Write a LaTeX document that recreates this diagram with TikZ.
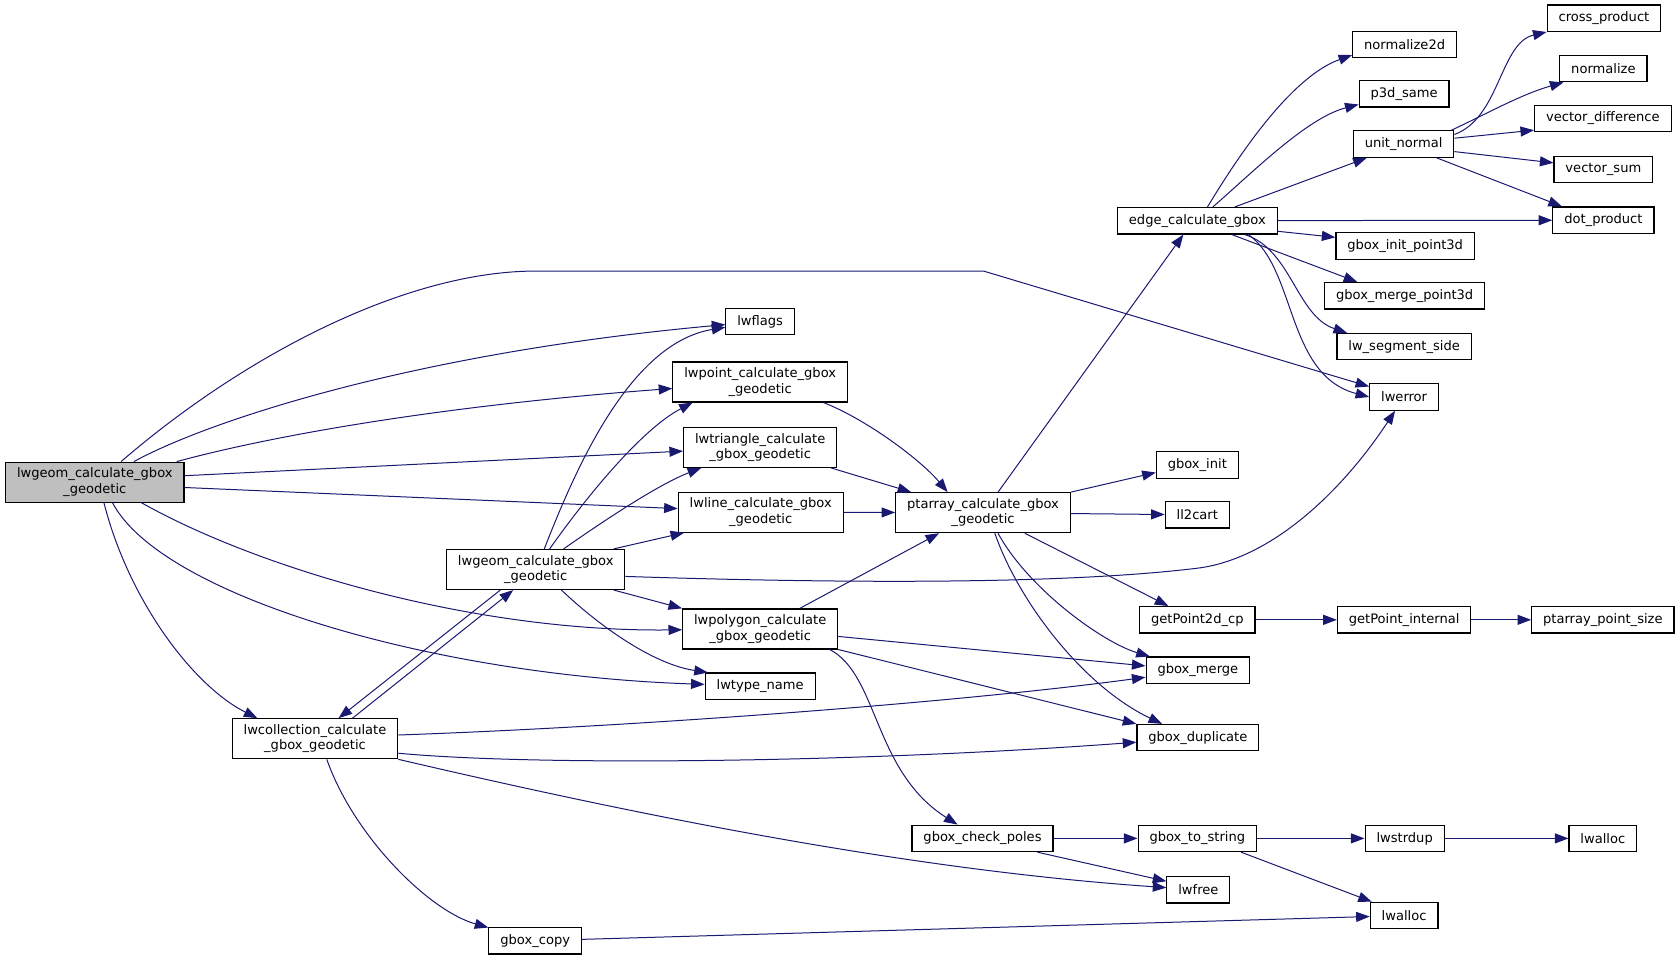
\documentclass[tikz,border=0pt]{standalone}
\usepackage{fontspec}
\setmainfont{DejaVu Sans}
\usetikzlibrary{arrows.meta,calc}
\definecolor{edgeblue}{HTML}{191970}
\definecolor{rootgray}{HTML}{BFBFBF}
\begin{document}
\begin{tikzpicture}[x=0.75pt, y=0.75pt,
        fn/.style={draw, rectangle, line width=0.8pt, inner xsep=8pt, inner ysep=2pt, minimum height=18.5pt, align=center, font=\fontsize{9.15}{10.8}\selectfont},
        fn2/.style={fn, minimum height=28pt},
        dep/.style={-{Triangle[length=9.5pt,width=7pt]}, edgeblue, line width=0.7pt}]
    \useasboundingbox (0,0) rectangle (1568,-896);

    \node[fn2, fill=rootgray] (root) at (88.5,-450) {lwgeom\_calculate\_gbox\\\_geodetic};
    \node[fn] (lwflags) at (709.5,-300) {lwflags};
    \node[fn2] (lwpoint) at (709.5,-356.5) {lwpoint\_calculate\_gbox\\\_geodetic};
    \node[fn2] (lwtri) at (709.5,-417.5) {lwtriangle\_calculate\\\_gbox\_geodetic};
    \node[fn2] (lwline) at (710,-478) {lwline\_calculate\_gbox\\\_geodetic};
    \node[fn2] (geom) at (500,-531.5) {lwgeom\_calculate\_gbox\\\_geodetic};
    \node[fn2] (lwpoly) at (709.5,-587) {lwpolygon\_calculate\\\_gbox\_geodetic};
    \node[fn] (typename) at (709.5,-640.5) {lwtype\_name};
    \node[fn2] (coll) at (294,-689.5) {lwcollection\_calculate\\\_gbox\_geodetic};
    \node[fn] (gcopy) at (499.5,-878) {gbox\_copy};
    \node[fn2] (ptarr) at (917.5,-478.5) {ptarray\_calculate\_gbox\\\_geodetic};
    \node[fn] (edge) at (1117.5,-206) {edge\_calculate\_gbox};
    \node[fn] (norm2d) at (1311,-41.5) {normalize2d};
    \node[fn] (psame) at (1310.5,-87.5) {p3d\_same};
    \node[fn] (unorm) at (1310,-134.5) {unit\_normal};
    \node[fn] (ginitpt) at (1311.5,-229.5) {gbox\_init\_point3d};
    \node[fn] (gmergept) at (1311,-276) {gbox\_merge\_point3d};
    \node[fn] (segside) at (1310.5,-323.5) {lw\_segment\_side};
    \node[fn] (lwerr) at (1310.5,-370.5) {lwerror};
    \node[fn] (cross) at (1497,-17) {cross\_product};
    \node[fn] (normz) at (1496.5,-64) {normalize};
    \node[fn] (vdiff) at (1496,-110.5) {vector\_difference};
    \node[fn] (vsum) at (1496.5,-158) {vector\_sum};
    \node[fn] (dotp) at (1496.5,-205.5) {dot\_product};
    \node[fn] (ginit) at (1117.5,-434) {gbox\_init};
    \node[fn] (llcart) at (1117.5,-480.5) {ll2cart};
    \node[fn] (gp2d) at (1117.5,-578.5) {getPoint2d\_cp};
    \node[fn] (gpint) at (1310.5,-578.5) {getPoint\_internal};
    \node[fn] (ppsize) at (1496,-578.5) {ptarray\_point\_size};
    \node[fn] (gmerge) at (1118,-625.5) {gbox\_merge};
    \node[fn] (gdup) at (1118,-688.5) {gbox\_duplicate};
    \node[fn] (gpoles) at (917,-782.5) {gbox\_check\_poles};
    \node[fn] (gstr) at (1117.5,-782.5) {gbox\_to\_string};
    \node[fn] (strdup) at (1311,-782.5) {lwstrdup};
    \node[fn] (alloca) at (1496,-782.5) {lwalloc};
    \node[fn] (lwfree) at (1118.5,-830.5) {lwfree};
    \node[fn] (allocb) at (1310.5,-854.5) {lwalloc};

    \draw[dep] ($(root.north)+(24.5,0)$) .. controls (230,-330) and (380,-253) .. (500,-253) -- (918,-253) -- (lwerr);
    \draw[dep] ($(root.north)+(36.5,0)$) .. controls (190,-395) and (380,-330) .. (lwflags);
    \draw[dep] ($(root.north)+(76.5,0)$) .. controls (260,-405) and (420,-378) .. (lwpoint);
    \draw[dep] ($(root.east)+(0,6)$) -- (lwtri);
    \draw[dep] ($(root.east)+(0,-5)$) -- (lwline);
    \draw[dep] ($(root.south)+(43.5,0)$) .. controls (240,-530) and (440,-590) .. (lwpoly);
    \draw[dep] ($(root.south)+(16.5,0)$) .. controls (150,-555) and (400,-630) .. (typename);
    \draw[dep] ($(root.south)+(8.5,0)$) .. controls (120,-560) and (180,-640) .. ($(coll.north west)+(24,0)$);

    \draw[dep] ($(geom.north)+(8,0)$) .. controls (540,-430) and (590,-320) .. (lwflags);
    \draw[dep] ($(geom.north)+(13,0)$) .. controls (550,-460) and (600,-400) .. ($(lwpoint.south west)+(19,0)$);
    \draw[dep] ($(geom.north)+(26,0)$) .. controls (565,-485) and (615,-452) .. ($(lwtri.south west)+(17,0)$);
    \draw[dep] ($(geom.north east)+(-11,0)$) -- ($(lwline.south west)+(6,0)$);
    \draw[dep] ($(geom.east)+(0,-6.5)$) .. controls (800,-545) and (1000,-545) .. (1120,-530) .. controls (1190,-520) and (1255,-455) .. (lwerr);
    \draw[dep] ($(geom.south east)+(-11,0)$) -- (lwpoly.north west);
    \draw[dep] ($(geom.south)+(24,0)$) .. controls (560,-585) and (610,-620) .. ($(typename.north west)+(3,0)$);
    \draw[dep] ($(geom.south)+(-33,0)$) -- ($(coll.north)+(22,0)$);

    \draw[dep] ($(coll.north)+(35,0)$) -- ($(geom.south)+(-21,0)$);
    \draw[dep] ($(coll.east)+(0,3.5)$) .. controls (600,-678) and (900,-655) .. (gmerge);
    \draw[dep] ($(coll.east)+(0,-13.5)$) .. controls (500,-715) and (800,-712) .. (gdup);
    \draw[dep] (coll.south east) .. controls (600,-762) and (850,-812) .. (lwfree);
    \draw[dep] ($(coll.south)+(11,0)$) .. controls (330,-780) and (400,-850) .. (gcopy);

    \draw[dep] ($(lwpoint.south east)+(-23,0)$) .. controls (810,-392) and (860,-430) .. ($(ptarr.north west)+(49,0)$);
    \draw[dep] ($(lwtri.south east)+(-6,0)$) -- ($(ptarr.north west)+(15,0)$);
    \draw[dep] (lwline) -- (ptarr);
    \draw[dep] ($(lwpoly.north)+(37,0)$) -- ($(ptarr.south)+(-41,0)$);
    \draw[dep] ($(lwpoly.east)+(0,-7)$) -- ($(gmerge.west)+(0,4)$);
    \draw[dep] (lwpoly.south east) -- (gdup.north west);
    \draw[dep] ($(lwpoly.south east)+(-8,0)$) .. controls (820,-630) and (815,-720) .. ($(gpoles.north west)+(43,0)$);
    \draw[dep] (gcopy) -- (allocb);

    \draw[dep] ($(ptarr.north)+(14,0)$) -- ($(edge.south)+(-13,0)$);
    \draw[dep] (ptarr.north east) -- ($(ginit.west)+(0,-7)$);
    \draw[dep] (ptarr) -- (llcart);
    \draw[dep] ($(ptarr.south)+(39,0)$) -- ($(gp2d.north)+(-27,0)$);
    \draw[dep] ($(ptarr.south)+(14,0)$) .. controls (960,-550) and (1030,-600) .. ($(gmerge.north west)+(4,0)$);
    \draw[dep] ($(ptarr.south)+(11,0)$) .. controls (950,-560) and (1010,-640) .. ($(gdup.north west)+(24,0)$);

    \draw[dep] ($(edge.north)+(9.5,0)$) .. controls (1165,-130) and (1210,-70) .. ($(norm2d.south west)+(0,3)$);
    \draw[dep] ($(edge.north)+(14.5,0)$) .. controls (1170,-160) and (1220,-110) .. ($(psame.west)+(0,-10)$);
    \draw[dep] ($(edge.north)+(35,0)$) -- ($(unorm.south west)+(13,0)$);
    \draw[dep] (edge) -- (dotp);
    \draw[dep] ($(edge.south east)+(0,3)$) -- ($(ginitpt.west)+(0,8)$);
    \draw[dep] ($(edge.south)+(32,0)$) -- ($(gmergept.north west)+(31,0)$);
    \draw[dep] ($(edge.south)+(44,0)$) .. controls (1205,-232) and (1210,-295) .. ($(segside.north west)+(10,0)$);
    \draw[dep] ($(edge.south)+(47.5,0)$) .. controls (1210,-250) and (1200,-350) .. (lwerr.west);

    \draw[dep] ($(unorm.east)+(0,9)$) .. controls (1400,-110) and (1400,-40) .. (cross.south west);
    \draw[dep] ($(unorm.north east)+(-3,0)$) .. controls (1390,-105) and (1420,-88) .. ($(normz.south west)+(4,0)$);
    \draw[dep] ($(unorm.east)+(0,5.5)$) -- ($(vdiff.west)+(0,-11)$);
    \draw[dep] ($(unorm.east)+(0,-7)$) -- ($(vsum.west)+(0,6)$);
    \draw[dep] ($(unorm.south)+(31,0)$) -- ($(dotp.north west)+(9,0)$);

    \draw[dep] (gpoles) -- (gstr);
    \draw[dep] ($(gpoles.south east)+(-15,0)$) -- ($(lwfree.west)+(0,8)$);
    \draw[dep] (gstr) -- (strdup);
    \draw[dep] (strdup) -- (alloca);
    \draw[dep] ($(gstr.south east)+(-15,0)$) -- ($(allocb.north west)+(2,0)$);
    \draw[dep] (gp2d) -- (gpint);
    \draw[dep] (gpint) -- (ppsize);
\end{tikzpicture}
\end{document}
